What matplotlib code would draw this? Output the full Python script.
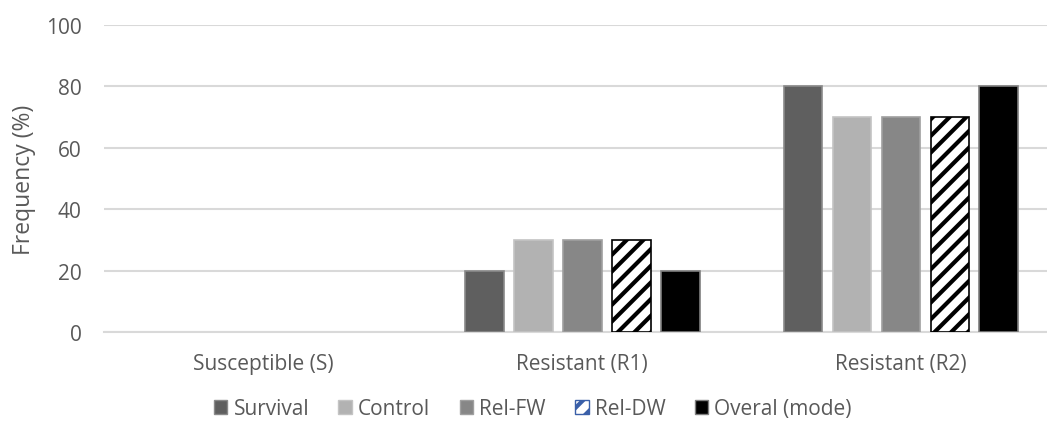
import numpy as np
import matplotlib
matplotlib.use("Agg")
import matplotlib.pyplot as plt
from matplotlib.patches import Patch

plt.rcParams['font.family'] = ['Open Sans', 'DejaVu Sans']
plt.rcParams['hatch.linewidth'] = 3.0

# data
categories = ['Susceptible (S)', 'Resistant (R1)', 'Resistant (R2)']
series = ['Survival', 'Control', 'Rel-FW', 'Rel-DW', 'Overal (mode)']
survival = [0, 20, 80]
control = [0, 30, 70]
rel_fw = [0, 30, 70]
rel_dw = [0, 30, 70]
overal = [0, 20, 80]
yticks = [0, 20, 40, 60, 80, 100]

values = [survival, control, rel_fw, rel_dw, overal]
faces = ['#5f5f5f', '#b2b2b2', '#878787', 'white', 'black']
edges = ['#8a8a8a', '#c4c4c4', '#a0a0a0', 'black', '#7f7f7f']
hatches = [None, None, None, '//', None]
txt = '#595959'

fig = plt.figure(figsize=(10.47, 4.27), dpi=100)
ax = fig.add_axes([0.0993, 0.2194, 0.9007, 0.7204])

x = np.arange(len(categories))
step = 0.1536
width = 0.122
for i, (vals, fc, ec, h) in enumerate(zip(values, faces, edges, hatches)):
    # empty bars get no outline so nothing shows at zero
    ecs = [ec if v > 0 else 'none' for v in vals]
    ax.bar(x + (i - 2) * step, vals, width, color=fc, edgecolor=ecs,
           linewidth=1.2, hatch=h, zorder=3, label=series[i])

ax.set_xlim(-0.5, 2.458)
ax.set_ylim(0, 100)
ax.set_yticks(yticks)
ax.set_xticks(x)
ax.set_xticklabels(categories)
ax.yaxis.grid(True, color='#d9d9d9', linewidth=1.5, zorder=0)
for s in ['top', 'right', 'left']:
    ax.spines[s].set_visible(False)
ax.spines['bottom'].set_color('#d9d9d9')
ax.spines['bottom'].set_linewidth(1.5)
ax.tick_params(axis='both', length=0, labelsize=15, labelcolor=txt)
ax.tick_params(axis='x', pad=15)
ax.tick_params(axis='y', pad=16)
ax.set_ylabel('Frequency (%)', fontsize=16.5, color=txt)
ax.yaxis.set_label_coords(-0.072, 0.5)

handles = [Patch(facecolor=fc, edgecolor=ec, hatch=h, linewidth=1)
           for fc, ec, h in zip(faces, edges, hatches)]
handles[3] = Patch(facecolor='white', edgecolor='#3a5fa8', hatch='//', linewidth=1)
fig.legend(handles, series, loc='center', bbox_to_anchor=(0.509, 0.04),
           ncol=5, frameon=False, fontsize=15, labelcolor=txt,
           handlelength=0.65, handleheight=0.65, handletextpad=0.3,
           columnspacing=1.4)

fig.savefig('out.png', dpi=100)
